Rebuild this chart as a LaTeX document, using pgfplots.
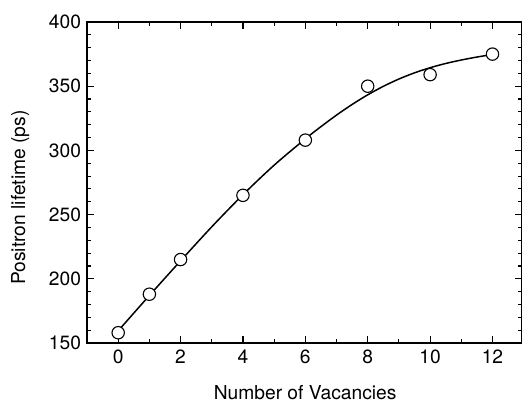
\documentclass[border=0pt]{standalone}
\usepackage{fontspec}
\setmainfont{TeX Gyre Heros}
\usepackage{pgfplots}
\pgfplotsset{compat=1.18}
\begin{document}
\begin{tikzpicture}
\useasboundingbox (0,0) rectangle (522bp,404bp);
\begin{axis}[
  at={(87bp,61bp)}, anchor=south west,
  width=434.5bp, height=321bp, scale only axis,
  xmin=-1, xmax=12.93, ymin=150, ymax=400,
  xtick={0,2,...,12}, minor x tick num=1,
  ytick={150,200,...,400}, minor y tick num=4,
  tick align=inside,
  major tick length=7bp, minor tick length=4bp,
  axis line style={line width=1.3bp},
  every tick/.style={black, line width=1.1bp},
  /pgf/number format/assume math mode=true,
  tick label style={font=\fontsize{19.3}{22}\selectfont},
  yticklabel style={xshift=-2.5bp},
  xticklabel style={yshift=-3.5bp},
  label style={font=\fontsize{19.3}{22}\selectfont},
  xlabel={Number of Vacancies},
  ylabel={Positron lifetime (ps)},
  xlabel style={at={(axis description cs:0.502,-0.156)}, anchor=center},
  ylabel style={at={(axis description cs:-0.154,0.453)}, anchor=center},
]
\addplot[black, line width=1.5bp, smooth, no marks] coordinates {
  (0,159.5) (1,187) (2,214) (3,240.5) (4,265.5) (5,288.5) (6,309)
  (6.5,318.5) (7,327.5) (7.5,335.8) (8,343.3) (8.5,349.9) (9,355.6)
  (9.5,360.4) (10,364.4) (10.5,367.7) (11,370.4) (11.5,372.7) (12,374.7)
};
\addplot[only marks, mark=*, mark size=6.2bp,
  mark options={fill=white, draw=black, line width=1.1bp}] coordinates {
  (0,158) (1,188) (2,215) (4,265) (6,308) (8,350) (10,359) (12,375)
};
\end{axis}
\end{tikzpicture}
\end{document}
